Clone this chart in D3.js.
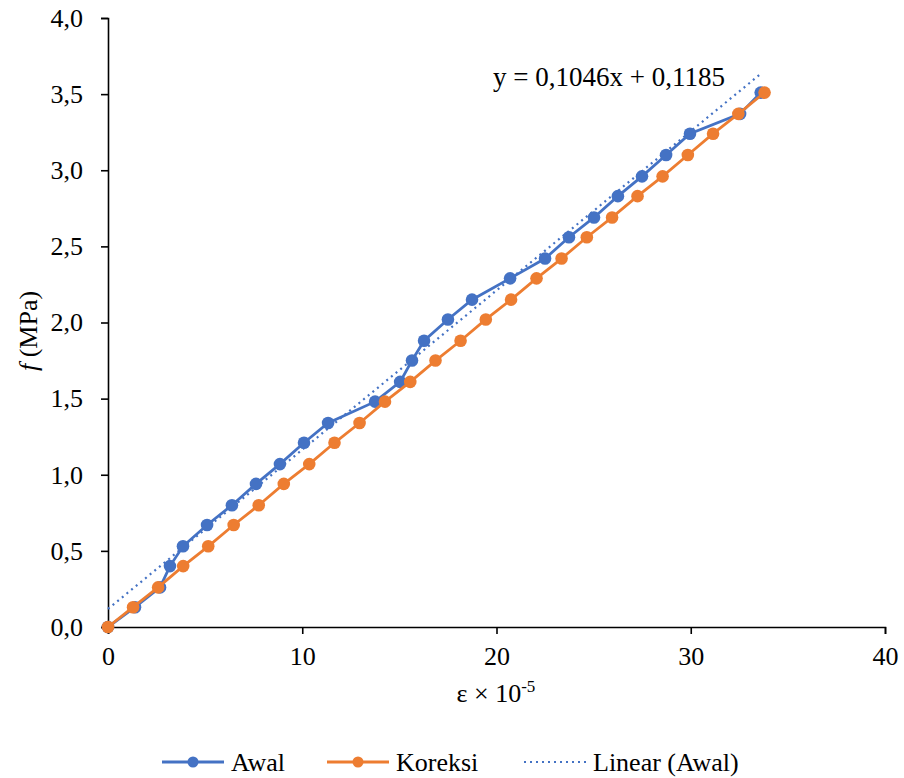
<!DOCTYPE html>
<html>
<head>
<meta charset="utf-8">
<script src="https://cdn.jsdelivr.net/npm/d3@7"></script>
<style>
  body { margin: 0; background: #fff; }
  svg text { font-family: "Liberation Serif", "Times New Roman", Times, "DejaVu Serif", serif !important; fill: #000; }
</style>
</head>
<body>
<svg id="chart" width="904" height="778"></svg>
<script>
// stress levels (MPa), shared by both series
const stress = [0, 0.13, 0.26, 0.40, 0.53, 0.67, 0.80, 0.94, 1.07, 1.21, 1.34, 1.48, 1.61, 1.75,
  1.88, 2.02, 2.15, 2.29, 2.42, 2.56, 2.69, 2.83, 2.96, 3.10, 3.24, 3.37, 3.51]
// strain x 10^-5, raw readings
const strainAwal = [0, 1.39, 2.68, 3.19, 3.86, 5.10, 6.38, 7.62, 8.85, 10.09, 11.33, 13.75, 15.04,
  15.65, 16.27, 17.50, 18.74, 20.70, 22.50, 23.73, 25.02, 26.25, 27.49, 28.73, 29.96, 32.54, 33.6]
// corrected strain
const strainKoreksi = [0, 1.29, 2.58, 3.87, 5.16, 6.47, 7.76, 9.05, 10.36, 11.66, 12.95, 14.26, 15.56,
  16.86, 18.15, 19.45, 20.75, 22.06, 23.35, 24.65, 25.95, 27.26, 28.55, 29.85, 31.15, 32.45, 33.80]
const xTicks = [0, 10, 20, 30, 40]
const yTicks = [0, 0.5, 1, 1.5, 2, 2.5, 3, 3.5, 4]
const trend = {slope: 0.1046, intercept: 0.1185}

const blue = '#4472C4', orange = '#ED7D31'
const svg = d3.select('#chart')
const x = d3.scaleLinear().domain([0, 40]).range([108, 885])
const y = d3.scaleLinear().domain([0, 4]).range([627, 18])
const fmt = d3.format('.1f')

// axes
const xAxis = svg.append('g').attr('transform', `translate(0,${y(0)})`)
  .call(d3.axisBottom(x).tickValues(xTicks).tickSize(7).tickPadding(13).tickFormat(d3.format('d')))
const yAxis = svg.append('g').attr('transform', `translate(${x(0)},0)`)
  .call(d3.axisLeft(y).tickValues(yTicks).tickSize(7).tickPadding(18).tickFormat(d => fmt(d).replace('.', ',')))
for (const g of [xAxis, yAxis]) {
  g.attr('font-family', null).attr('font-size', null)
  g.select('.domain').attr('stroke', '#000').attr('stroke-width', 1.6)
  g.selectAll('.tick line').attr('stroke', '#000').attr('stroke-width', 1.6)
  g.selectAll('.tick text').style('font-size', '26px')
}

// trend line
const xMax = d3.max(strainAwal)
svg.append('line')
  .attr('x1', x(0)).attr('y1', y(trend.intercept))
  .attr('x2', x(xMax)).attr('y2', y(trend.slope * xMax + trend.intercept))
  .attr('stroke', blue).attr('stroke-width', 2.2).attr('stroke-dasharray', '2,4')

const line = d3.line().x(d => x(d[0])).y(d => y(d[1]))

function series(xs, color) {
  const pts = xs.map((v, i) => [v, stress[i]])
  svg.append('path').datum(pts).attr('d', line)
    .attr('fill', 'none').attr('stroke', color).attr('stroke-width', 2.8)
  svg.append('g').selectAll('circle').data(pts).enter().append('circle')
    .attr('cx', d => x(d[0])).attr('cy', d => y(d[1])).attr('r', 6.3)
    .attr('fill', color)
}
series(strainAwal, blue)
series(strainKoreksi, orange)

// equation
svg.append('text').attr('x', 493).attr('y', 86).style('font-size', '27px')
  .text('y = 0,1046x + 0,1185')

// axis titles
const xt = svg.append('text').attr('x', 496).attr('y', 702).attr('text-anchor', 'middle').style('font-size', '26px')
xt.append('tspan').text('ε × 10')
xt.append('tspan').attr('dy', -10).style('font-size', '17px').text('-5')

const yt = svg.append('text').attr('transform', 'translate(37,331) rotate(-90)')
  .attr('text-anchor', 'middle').style('font-size', '26px')
yt.append('tspan').style('font-style', 'italic').text('f')
yt.append('tspan').text(' (MPa)')

// legend
const legend = [
  {label: 'Awal', color: blue, x: 162, dotted: false},
  {label: 'Koreksi', color: orange, x: 327, dotted: false},
  {label: 'Linear (Awal)', color: blue, x: 524, dotted: true}
]
const ly = 762
legend.forEach(d => {
  svg.append('line').attr('x1', d.x).attr('x2', d.x + 62).attr('y1', ly).attr('y2', ly)
    .attr('stroke', d.color).attr('stroke-width', d.dotted ? 2 : 2.8)
    .attr('stroke-dasharray', d.dotted ? '2,4' : null)
  if (!d.dotted) svg.append('circle').attr('cx', d.x + 31).attr('cy', ly).attr('r', 5.5).attr('fill', d.color)
  svg.append('text').attr('x', d.x + 69).attr('y', ly + 9).style('font-size', '26px').text(d.label)
})
</script>
</body>
</html>
